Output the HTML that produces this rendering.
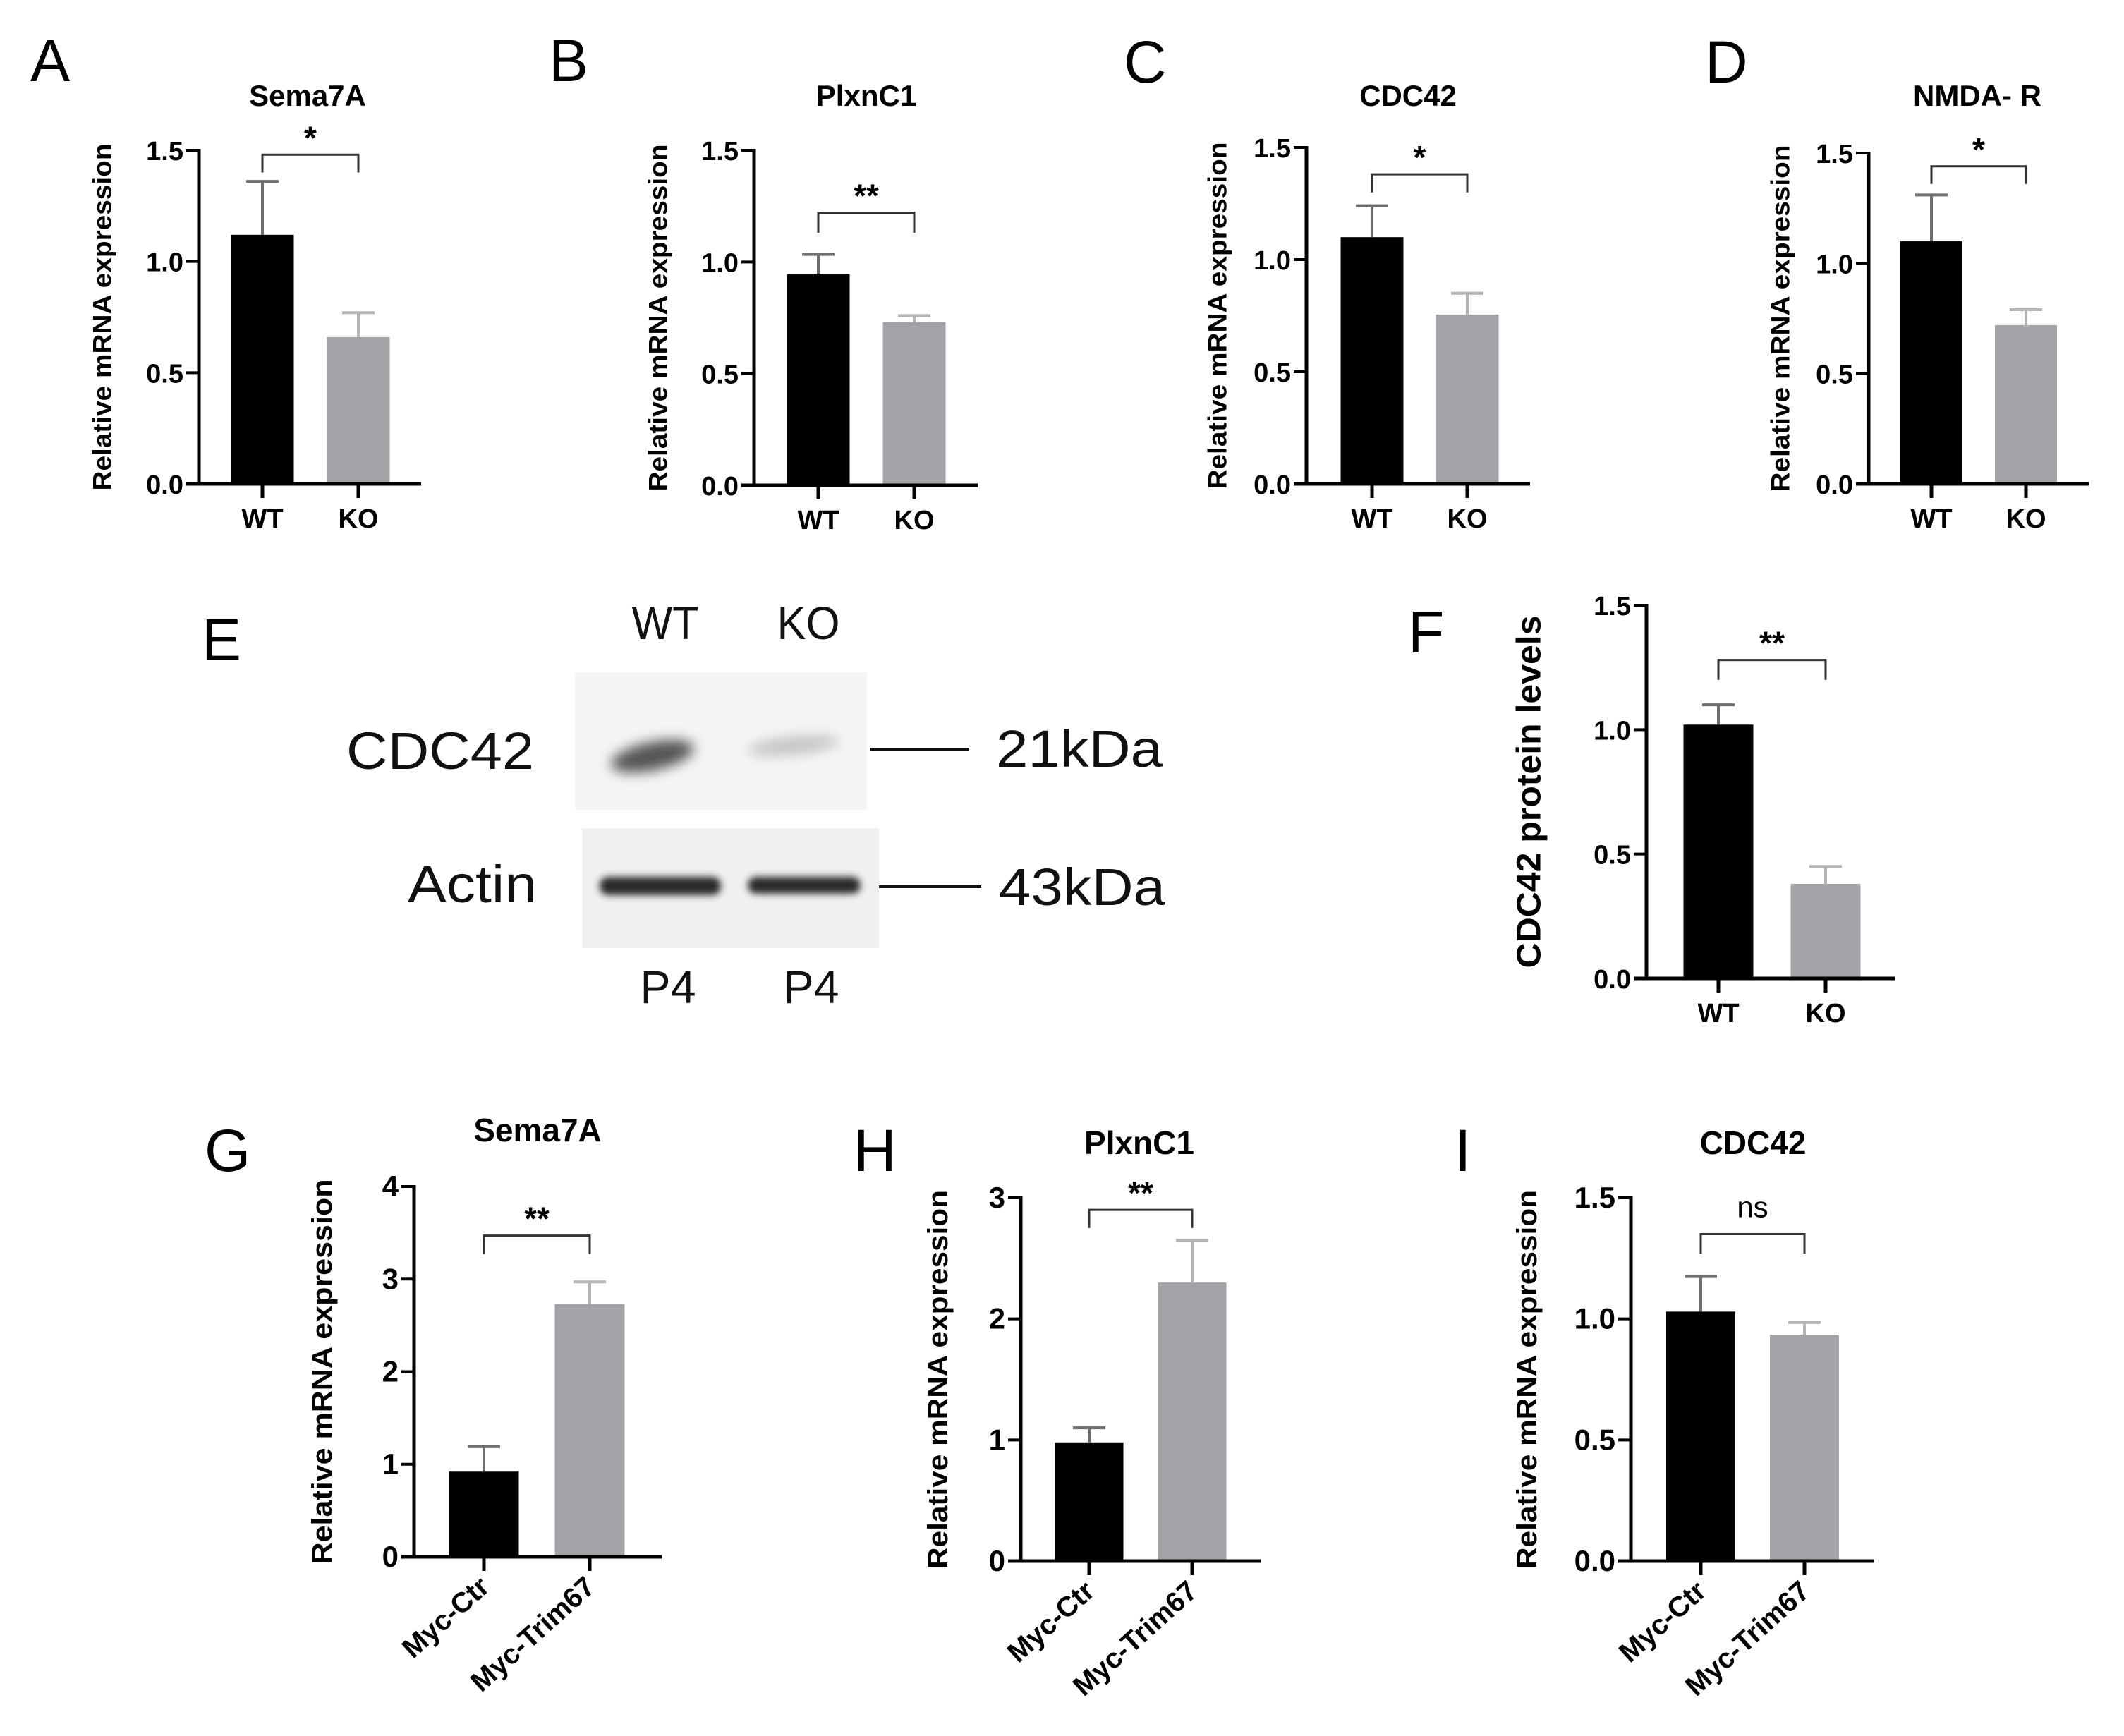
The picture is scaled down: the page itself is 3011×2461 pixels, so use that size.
<!DOCTYPE html>
<html><head><meta charset="utf-8">
<style>
html,body{margin:0;padding:0;background:#fff;}
svg{display:block;font-family:"Liberation Sans",Arial,sans-serif;}
</style></head>
<body>
<svg id="fig" width="3011" height="2461" viewBox="0 0 3011 2461" xmlns="http://www.w3.org/2000/svg">
<defs>
<filter id="blur8" x="-50%" y="-50%" width="200%" height="200%"><feGaussianBlur stdDeviation="9"/></filter>
<filter id="blur5" x="-50%" y="-50%" width="200%" height="200%"><feGaussianBlur stdDeviation="5"/></filter>
</defs>
<g font-size="84" fill="#000">
<text x="43" y="115">A</text>
<text x="778" y="115">B</text>
<text x="1593" y="117">C</text>
<text x="2417" y="117">D</text>
<text x="286" y="936">E</text>
<text x="1996" y="925">F</text>
<text x="290" y="1660">G</text>
<text x="1210" y="1660">H</text>
<text x="2062" y="1660">I</text>
</g>
<g>
<rect x="815" y="953" width="414" height="195" fill="#f5f5f5"/>
<rect x="825" y="1174" width="421" height="170" fill="#f0f0f0"/>
<g filter="url(#blur8)">
<ellipse cx="925" cy="1072" rx="60" ry="20" fill="#555" transform="rotate(-12 925 1072)"/>
<ellipse cx="1125" cy="1057" rx="65" ry="13" fill="#c4c4c4" transform="rotate(-6 1125 1057)"/>
</g>
<g filter="url(#blur5)">
<rect x="850" y="1243" width="172" height="26" rx="12" fill="#2a2a2a"/>
<rect x="1060" y="1243" width="160" height="24" rx="12" fill="#2a2a2a"/>
</g>
<g font-size="66" fill="#111">
<text x="943" y="906" text-anchor="middle" textLength="95" lengthAdjust="spacingAndGlyphs">WT</text>
<text x="1146" y="906" text-anchor="middle" textLength="89" lengthAdjust="spacingAndGlyphs">KO</text>
<text x="947" y="1422" text-anchor="middle" textLength="79" lengthAdjust="spacingAndGlyphs">P4</text>
<text x="1150" y="1422" text-anchor="middle" textLength="79" lengthAdjust="spacingAndGlyphs">P4</text>
</g>
<g font-size="74" fill="#111">
<text x="491" y="1090" textLength="266" lengthAdjust="spacingAndGlyphs">CDC42</text>
<text x="578" y="1279" textLength="183" lengthAdjust="spacingAndGlyphs">Actin</text>
<text x="1412" y="1087" textLength="236" lengthAdjust="spacingAndGlyphs">21kDa</text>
<text x="1416" y="1283" textLength="236" lengthAdjust="spacingAndGlyphs">43kDa</text>
</g>
<line x1="1233" y1="1062" x2="1374" y2="1062" stroke="#111" stroke-width="4"/>
<line x1="1246" y1="1257" x2="1391" y2="1257" stroke="#111" stroke-width="4"/>
</g>
<g id="charts"></g>
</svg>
<script>
// ---- data ----
const catsWTKO = ["WT", "KO"];
const catsMyc = ["Myc-Ctr", "Myc-Trim67"];
const valsA = [1.12, 0.66];  const errA = [0.24, 0.11];
const valsB = [0.944, 0.73]; const errB = [0.09, 0.03];
const valsC = [1.10, 0.755]; const errC = [0.14, 0.095];
const valsD = [1.10, 0.72];  const errD = [0.21, 0.07];
const valsF = [1.02, 0.38];  const errF = [0.08, 0.07];
const valsG = [0.92, 2.73];  const errG = [0.27, 0.24];
const valsH = [0.98, 2.30];  const errH = [0.12, 0.35];
const valsI = [1.03, 0.935]; const errI = [0.145, 0.05];
const ticks15 = [0, 0.5, 1.0, 1.5];
const tickLabels15 = ["0.0", "0.5", "1.0", "1.5"];
const ticks4 = [0, 1, 2, 3, 4];
const tickLabels4 = ["0", "1", "2", "3", "4"];
const ticks3 = [0, 1, 2, 3];
const tickLabels3 = ["0", "1", "2", "3"];
const sigLabels = ["*", "**", "*", "*", "**", "**", "**", "ns"];
const bracketLevels = [1.48, 1.22, 1.38, 1.44, 1.28, 3.47, 2.90, 1.35];
const bracketDrops = [0.08, 0.09, 0.08, 0.08, 0.08, 0.20, 0.15, 0.08];
const titles = ["Sema7A", "PlxnC1", "CDC42", "NMDA- R", "", "Sema7A", "PlxnC1", "CDC42"];
const yTitles = ["Relative mRNA  expression", "Relative mRNA  expression", "Relative mRNA  expression", "Relative mRNA  expression", "CDC42 protein levels", "Relative mRNA  expression", "Relative mRNA  expression", "Relative mRNA  expression"];

// ---- layout (pixels, not data) ----
const panels = [
 {id:"a", cats:catsWTKO, vals:valsA, err:errA, ticks:ticks15, tl:tickLabels15, ax:282, y0:686, yTop:213, xEnd:597, c0:372, step:136, bw:89, tx:436, ty:150, ytx:145, ytl:492, big:false},
 {id:"b", cats:catsWTKO, vals:valsB, err:errB, ticks:ticks15, tl:tickLabels15, ax:1069, y0:688, yTop:213, xEnd:1386, c0:1160, step:136, bw:89, tx:1228, ty:150, ytx:933, ytl:492, big:false},
 {id:"c", cats:catsWTKO, vals:valsC, err:errC, ticks:ticks15, tl:tickLabels15, ax:1852, y0:686, yTop:209, xEnd:2169, c0:1945, step:135, bw:89, tx:1996, ty:150, ytx:1726, ytl:492, big:false},
 {id:"d", cats:catsWTKO, vals:valsD, err:errD, ticks:ticks15, tl:tickLabels15, ax:2649, y0:686, yTop:217, xEnd:2961, c0:2738, step:134, bw:88, tx:2803, ty:150, ytx:2524, ytl:492, big:false},
 {id:"f", cats:catsWTKO, vals:valsF, err:errF, ticks:ticks15, tl:tickLabels15, ax:2334, y0:1387, yTop:858, xEnd:2686, c0:2436, step:152, bw:99, tx:0, ty:0, ytx:2168, ytl:500, big:false, yfs:48},
 {id:"g", cats:catsMyc, vals:valsG, err:errG, ticks:ticks4, tl:tickLabels4, ax:587, y0:2207, yTop:1682, xEnd:938, c0:686, step:150, bw:99, tx:762, ty:1618, ytx:457, ytl:546, big:true},
 {id:"h", cats:catsMyc, vals:valsH, err:errH, ticks:ticks3, tl:tickLabels3, ax:1447, y0:2213, yTop:1698, xEnd:1788, c0:1544, step:146, bw:97, tx:1615, ty:1636, ytx:1330, ytl:537, big:true},
 {id:"i", cats:catsMyc, vals:valsI, err:errI, ticks:ticks15, tl:tickLabels15, ax:2312, y0:2213, yTop:1698, xEnd:2657, c0:2411, step:147, bw:98, tx:2485, ty:1636, ytx:2165, ytl:537, big:true}
];
const NS = "http://www.w3.org/2000/svg";
const root = document.getElementById("charts");
function mk(parent, tag, attrs, txt){
  const e = document.createElementNS(NS, tag);
  for (const k in attrs) e.setAttribute(k, attrs[k]);
  if (txt !== undefined) e.textContent = txt;
  parent.appendChild(e);
  return e;
}
const barColors = ["#000000", "#a4a3a8"];
const errColors = ["#6e6e6e", "#b4b4b8"];
panels.forEach((p, pi) => {
  const g = mk(root, "g", {});
  
  
  const ymax = p.ticks[p.ticks.length - 1];
  const yScale = v => p.y0 - (v / ymax) * (p.y0 - p.yTop);
  const xScale = i => p.c0 + i * p.step;
  const tickFs = p.big ? 42 : 38;
  if (titles[pi]) {
    const t = mk(g, "text", {x:p.tx, y:p.ty, "text-anchor":"middle", "font-size": p.big ? 46 : 42, "font-weight":"bold"}, titles[pi]);
    
    
  }
  const ycy = (p.y0 + p.yTop) / 2;
  const yt = mk(g, "text", {x:p.ytx, y:ycy, "text-anchor":"middle", "dominant-baseline":"central", "font-size": p.yfs || (p.big ? 40 : 37), "font-weight":"bold", transform:"rotate(-90 " + p.ytx + " " + ycy + ")", textLength:p.ytl, lengthAdjust:"spacingAndGlyphs"}, yTitles[pi]);
  
  
  p.vals.forEach((v, i) => {
    const cx = xScale(i);
    const top = yScale(v);
    const eTop = yScale(v + p.err[i]);
    const el = mk(g, "line", {x1:cx, x2:cx, y1:top, y2:eTop, stroke:errColors[i], "stroke-width":4});
    
    
    const cap = mk(g, "line", {x1:cx - 23, x2:cx + 23, y1:eTop, y2:eTop, stroke:errColors[i], "stroke-width":4});
    
    
    const r = mk(g, "rect", {x:cx - p.bw / 2, y:top, width:p.bw, height:p.y0 - top, fill:barColors[i]});
    
    
    const xt = mk(g, "line", {x1:cx, x2:cx, y1:p.y0, y2:p.y0 + 20, stroke:"#000", "stroke-width":5});
    
    
    let lab;
    if (p.big) {
      const lx = cx + 10, ly = p.y0 + 46;
      lab = mk(g, "text", {x:lx, y:ly, "text-anchor":"end", "font-size":40, "font-weight":"bold", transform:"rotate(-42 " + lx + " " + ly + ")"}, p.cats[i]);
    } else {
      lab = mk(g, "text", {x:cx, y:p.y0 + 62, "text-anchor":"middle", "font-size":38, "font-weight":"bold"}, p.cats[i]);
    }
    
    
  });
  const ya = mk(g, "line", {x1:p.ax, x2:p.ax, y1:p.yTop - 2, y2:p.y0 + 2, stroke:"#000", "stroke-width":5});
  
  
  const xa = mk(g, "line", {x1:p.ax - 18, x2:p.xEnd, y1:p.y0, y2:p.y0, stroke:"#000", "stroke-width":5});
  
  
  p.ticks.forEach((tv, k) => {
    const y = yScale(tv);
    const tk = mk(g, "line", {x1:p.ax - 18, x2:p.ax, y1:y, y2:y, stroke:"#000", "stroke-width":4});
    
    
    const tt = mk(g, "text", {x:p.ax - 22, y:y + 14, "text-anchor":"end", "font-size":tickFs, "font-weight":"bold"}, p.tl[k]);
    
    
  });
  const by = yScale(bracketLevels[pi]);
  const bd = yScale(bracketLevels[pi] - bracketDrops[pi]);
  const x0 = xScale(0), x1 = xScale(1);
  const br = mk(g, "path", {d:"M" + x0 + " " + bd + " V" + by + " H" + x1 + " V" + bd, fill:"none", stroke:"#333", "stroke-width":3});
  
  
  const isNs = sigLabels[pi] === "ns";
  const st = mk(g, "text", {x:(x0 + x1) / 2, y: isNs ? by - 24 : by - 8, "text-anchor":"middle", "font-size": isNs ? 42 : 46, "font-weight": isNs ? "normal" : "bold"}, sigLabels[pi]);
  
  
});
</script>
</body></html>
